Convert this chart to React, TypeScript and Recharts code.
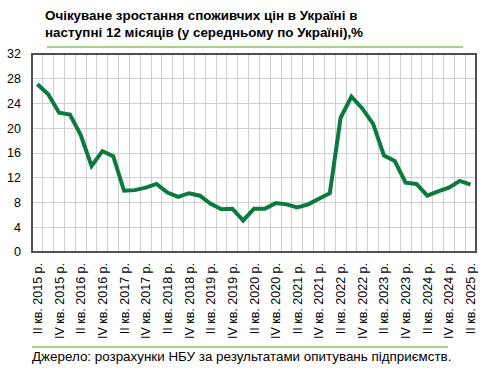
import { CartesianGrid, Line, LineChart, XAxis, YAxis } from "recharts";

const quarters = [
  "II кв. 2015 р.", "III кв. 2015 р.", "IV кв. 2015 р.",
  "I кв. 2016 р.", "II кв. 2016 р.", "III кв. 2016 р.", "IV кв. 2016 р.",
  "I кв. 2017 р.", "II кв. 2017 р.", "III кв. 2017 р.", "IV кв. 2017 р.",
  "I кв. 2018 р.", "II кв. 2018 р.", "III кв. 2018 р.", "IV кв. 2018 р.",
  "I кв. 2019 р.", "II кв. 2019 р.", "III кв. 2019 р.", "IV кв. 2019 р.",
  "I кв. 2020 р.", "II кв. 2020 р.", "III кв. 2020 р.", "IV кв. 2020 р.",
  "I кв. 2021 р.", "II кв. 2021 р.", "III кв. 2021 р.", "IV кв. 2021 р.",
  "I кв. 2022 р.", "II кв. 2022 р.", "III кв. 2022 р.", "IV кв. 2022 р.",
  "I кв. 2023 р.", "II кв. 2023 р.", "III кв. 2023 р.", "IV кв. 2023 р.",
  "I кв. 2024 р.", "II кв. 2024 р.", "III кв. 2024 р.", "IV кв. 2024 р.",
  "I кв. 2025 р.", "II кв. 2025 р.",
];

// очікувана інфляція, %
const expected = [
  27.1, 25.5, 22.5, 22.2, 18.9, 13.9, 16.3, 15.5, 9.9, 10.0,
  10.4, 11.0, 9.6, 8.9, 9.5, 9.1, 7.8, 6.9, 7.0, 5.1,
  7.0, 7.0, 7.9, 7.7, 7.2, 7.7, 8.6, 9.5, 21.7, 25.1,
  23.2, 20.7, 15.6, 14.7, 11.2, 11.0, 9.1, 9.8, 10.4, 11.5,
  10.9,
];

const yTicks = [0, 4, 8, 12, 16, 20, 24, 28, 32];

const FONT = "'Liberation Sans', Arial, sans-serif";
const N = quarters.length;
const FRAME = "#505050";

const data = quarters.map((q, i) => ({ x: i + 0.5, quarter: q, value: expected[i] }));
const labelTicks = data.filter((_, i) => i % 2 === 0).map((d) => d.x);
const gridTicks = Array.from({ length: N + 1 }, (_, i) => i);

function QuarterTick({ x, y, payload }: any) {
  const label = quarters[Math.floor(payload.value)];
  return (
    <text
      x={x}
      y={y}
      transform={`rotate(-90, ${x}, ${y})`}
      textAnchor="end"
      dy="0.36em"
      fontSize={12.5}
      fontFamily={FONT}
      fill="#000"
    >
      {label}
    </text>
  );
}

// vertical grid lines between quarters, through the x scale
function betweenQuarters(p: any) {
  const s = p.xAxis.scale;
  const f = typeof s === "function" ? s : s.map;
  return gridTicks.map((t) => f(t));
}

export default function App() {
  return (
    <div
      style={{
        position: "absolute",
        left: 0,
        top: 0,
        width: 502,
        height: 388,
        background: "#fff",
        fontFamily: FONT,
        overflow: "hidden",
      }}
    >
      <div
        style={{
          position: "absolute",
          left: 45,
          top: 7,
          fontSize: 13.4,
          lineHeight: "17px",
          fontWeight: "bold",
          color: "#000",
          whiteSpace: "nowrap",
        }}
      >
        Очікуване зростання споживчих цін в Україні в
        <br />
        наступні 12 місяців (у середньому по Україні),%
      </div>
      <div style={{ position: "absolute", left: 47, top: 46, width: 416, height: 2, background: "#a9d18e" }} />

      <div style={{ position: "absolute", left: 0, top: 0, width: 502, height: 388 }}>
        <LineChart width={502} height={388} data={data} margin={{ top: 54, right: 26, bottom: 46, left: 0 }}>
          <CartesianGrid
            stroke="#cfcfcf"
            strokeWidth={1}
            shapeRendering="crispEdges"
            verticalCoordinatesGenerator={betweenQuarters}
          />
          <XAxis
            dataKey="x"
            type="number"
            domain={[0, N]}
            ticks={labelTicks}
            interval={0}
            height={90}
            axisLine={{ stroke: FRAME, strokeWidth: 2 }}
            tickLine={false}
            tickSize={0}
            tickMargin={11}
            tick={<QuarterTick />}
          />
          <YAxis
            domain={[0, 32]}
            ticks={yTicks}
            interval={0}
            width={32}
            axisLine={{ stroke: FRAME, strokeWidth: 2 }}
            tickLine={false}
            tickMargin={5}
            tick={{ fill: "#000", fontSize: 12.5 }}
          />
          <Line
            dataKey="value"
            stroke="#0a7a3e"
            strokeWidth={4}
            dot={false}
            isAnimationActive={false}
          />
        </LineChart>
      </div>

      {/* plot frame */}
      <div
        style={{
          position: "absolute",
          left: 31,
          top: 53,
          width: 446,
          height: 200,
          border: `2px solid ${FRAME}`,
          boxSizing: "border-box",
          pointerEvents: "none",
        }}
      />

      <div style={{ position: "absolute", left: 32, top: 346, width: 416, height: 2, background: "#a9d18e" }} />
      <div
        style={{
          position: "absolute",
          left: 32,
          top: 349,
          fontSize: 13.4,
          lineHeight: "16px",
          color: "#000",
          whiteSpace: "nowrap",
        }}
      >
        Джерело: розрахунки НБУ за результатами опитувань підприємств.
      </div>
    </div>
  );
}
